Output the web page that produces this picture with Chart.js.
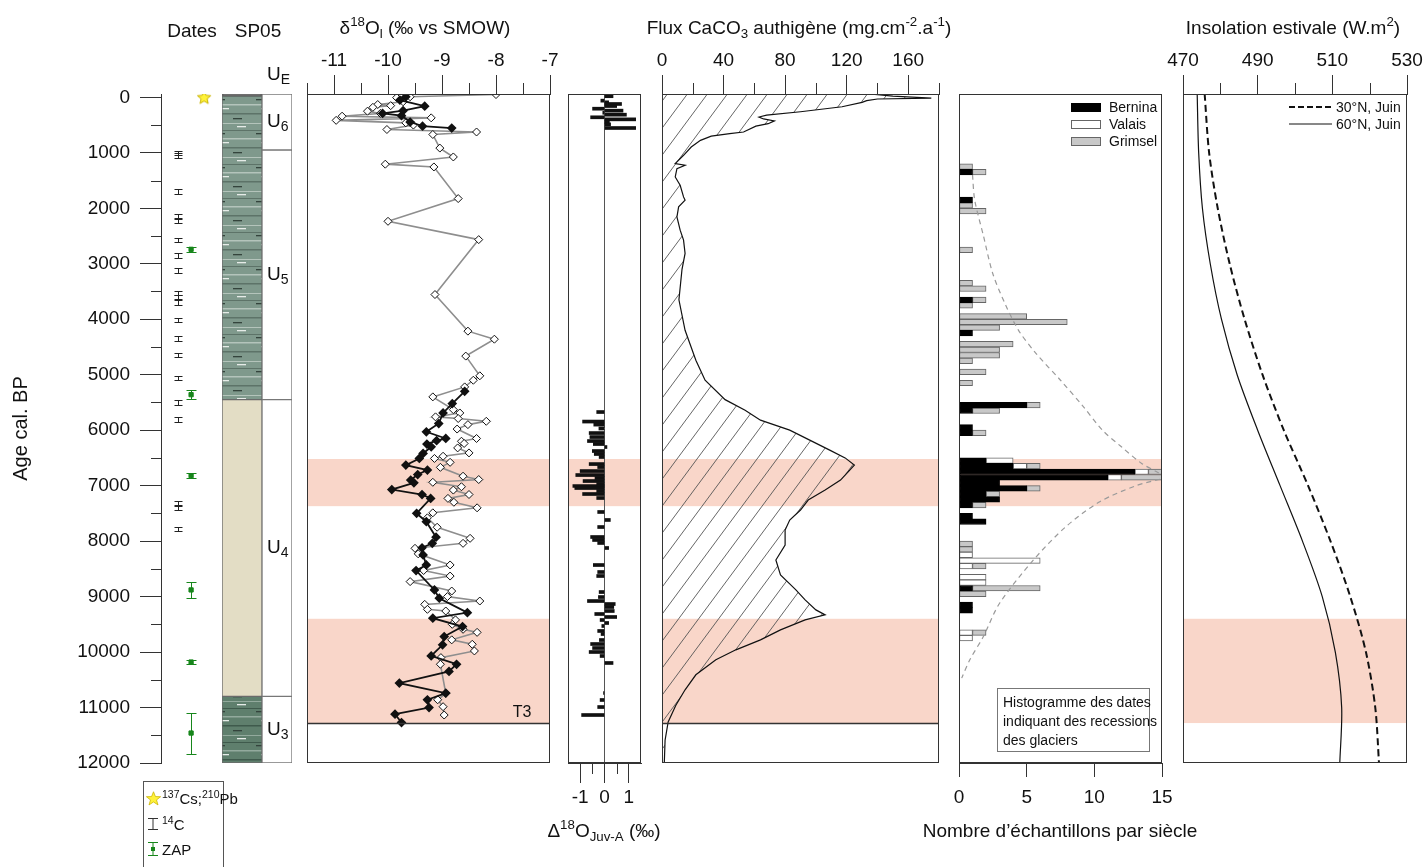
<!DOCTYPE html>
<html lang="fr">
<head>
<meta charset="utf-8">
<title>SP05 - profils</title>
<script src="https://cdn.jsdelivr.net/npm/chart.js@4.4.1/dist/chart.umd.min.js"></script>
<style>
  body { margin: 0; background: #fff; }
  #fig { position: relative; width: 1427px; height: 867px; overflow: hidden; background: #fff;
         font-family: "Liberation Sans", Arial, sans-serif; color: #111; }
  #fig canvas { position: absolute; top: 0; }
  .lbl { position: absolute; white-space: nowrap; transform: translate(-50%, -50%); font-size: 19px; line-height: 1; }
  .lbl sup, .lbl sub, .leg sup, .leg sub { font-size: 70%; line-height: 0; }
  .leg { position: absolute; white-space: nowrap; font-size: 14px; line-height: 1; }
  .box { position: absolute; display: inline-block; }
</style>
</head>
<body>
<div id="fig">
  <div class="lbl" style="left:192px;top:30px">Dates</div>
  <div class="lbl" style="left:258px;top:30px">SP05</div>
  <div class="lbl" style="left:425px;top:27px">δ<sup>18</sup>O<sub>l</sub> (‰ vs SMOW)</div>
  <div class="lbl" style="left:799px;top:27px">Flux CaCO<sub>3</sub> authigène (mg.cm<sup>-2</sup>.a<sup>-1</sup>)</div>
  <div class="lbl" style="left:1293px;top:27px">Insolation estivale (W.m<sup>2</sup>)</div>
  <div class="lbl" style="left:604px;top:830px">Δ<sup>18</sup>O<sub>Juv-A</sub> (‰)</div>
  <div class="lbl" style="left:1060px;top:830px">Nombre d’échantillons par siècle</div>
</div>
<script>
// axe des âges (cal. BP), partagé par tous les panneaux
const AGE_MIN = -60
const AGE_MAX = 12000
const ageTicks = [0, 1000, 2000, 3000, 4000, 5000, 6000, 7000, 8000, 9000, 10000, 11000, 12000]
const ageMinor = [500, 1500, 2500, 3500, 4500, 5500, 6500, 7500, 8500, 9500, 10500, 11500]

// dates
const csAges = [0]
const c14Ages = [1000, 1050, 1700, 2150, 2220, 2570, 2850, 3120, 3530, 3600, 3700, 4010, 4350, 4640, 5060, 5500, 5810, 7310, 7400, 7780]
const C14_ERR = 40
const zapAges = [2740, 5360, 6820, 8880, 10180, 11460]
const zapErr = [50, 80, 40, 150, 40, 370]

// lithologie SP05 et unités
const lithoTop = [-60, -25, 5450, 10800]
const lithoBot = [-25, 5450, 10800, 12000]
const unitNames = ['6', '5', '4', '3']
const unitTop = [-60, 950, 5450, 10800]
const unitBot = [950, 5450, 10800, 12000]

// d18O (permil vs SMOW)
const isoGrayAge = [-50, -10, 5, 80, 130, 150, 180, 250, 290, 340, 370, 415, 460, 500, 580, 625, 670, 915, 1075, 1205, 1255, 1825, 2235, 2565, 3555, 4215, 4360, 4665, 5020, 5100, 5220, 5400, 5630, 5690, 5760, 5790, 5840, 5900, 5980, 6150, 6200, 6240, 6320, 6410, 6470, 6510, 6580, 6670, 6830, 6890, 6940, 7020, 7080, 7160, 7230, 7300, 7400, 7490, 7580, 7750, 7950, 8040, 8130, 8230, 8430, 8530, 8630, 8730, 8900, 9000, 9080, 9140, 9230, 9260, 9420, 9500, 9590, 9645, 9780, 9860, 9980, 10100, 10220, 10745, 10860, 10985, 11135]
const isoGrayVal = [-8.0, -9.59, -9.84, -9.72, -10.19, -9.95, -10.28, -10.38, -10.14, -10.85, -9.2, -10.96, -9.67, -9.53, -10.02, -8.36, -9.17, -9.04, -8.79, -10.05, -9.15, -8.7, -10.0, -8.32, -9.13, -8.52, -8.03, -8.56, -8.3, -8.42, -8.58, -9.17, -8.79, -8.67, -9.12, -8.7, -8.18, -8.52, -8.72, -8.36, -8.64, -8.59, -8.71, -8.5, -8.98, -9.14, -8.85, -9.03, -8.61, -8.32, -9.17, -8.64, -8.79, -8.5, -8.89, -8.78, -8.35, -9.17, -9.27, -9.09, -8.48, -8.61, -9.5, -9.44, -8.85, -9.34, -8.85, -9.59, -8.82, -8.9, -8.3, -9.32, -9.27, -8.93, -8.75, -8.81, -8.61, -8.35, -8.82, -8.44, -8.4, -9.02, -9.03, -8.93, -9.08, -8.98, -8.96]
const isoBlackTopAge = [-10, 50, 160, 240, 290, 330, 445, 520, 555]
const isoBlackTopVal = [-9.67, -9.78, -9.32, -9.72, -10.1, -9.75, -9.59, -9.36, -8.82]
const isoBlackAge = [5300, 5520, 5690, 5880, 6030, 6150, 6190, 6250, 6300, 6420, 6510, 6630, 6720, 6800, 6900, 6950, 7070, 7160, 7230, 7500, 7650, 7930, 8040, 8120, 8250, 8430, 8530, 8880, 9030, 9290, 9390, 9540, 9720, 9870, 10070, 10220, 10350, 10560, 10740, 10860, 11000, 11120, 11270]
const isoBlackVal = [-8.58, -8.81, -8.98, -9.06, -9.29, -8.93, -9.1, -9.28, -9.2, -9.35, -9.42, -9.67, -9.27, -9.45, -9.58, -9.52, -9.93, -9.37, -9.21, -9.47, -9.29, -9.11, -9.18, -9.37, -9.35, -9.29, -9.48, -9.14, -9.05, -8.53, -9.17, -8.62, -8.96, -8.99, -9.2, -8.73, -8.87, -9.79, -8.93, -9.27, -9.24, -9.87, -9.75]
const isoTicks = [-11, -10, -9, -8, -7]
const isoMinor = [-11.5, -10.5, -9.5, -8.5, -7.5]

// Delta18O Juv-A
const deltaAge = [-20, 60, 90, 120, 157, 205, 240, 278, 313, 360, 397, 445, 487, 553, 5673, 5845, 5900, 5970, 6052, 6124, 6196, 6250, 6304, 6376, 6430, 6484, 6611, 6665, 6737, 6809, 6863, 6917, 6971, 7007, 7043, 7097, 7151, 7223, 7475, 7619, 7746, 7926, 7980, 8034, 8124, 8431, 8557, 8629, 8918, 9008, 9080, 9134, 9188, 9260, 9314, 9368, 9422, 9476, 9530, 9620, 9675, 9783, 9855, 9927, 9999, 10071, 10197, 10738, 10864, 10991, 11135]
const deltaVal = [0.35, -0.15, 0.17, 0.7, 0.5, -0.49, 0.76, -0.07, 0.9, -0.57, 1.28, 0.2, 0.25, 1.28, -0.32, -0.9, -0.44, -0.23, -0.63, -0.6, -0.7, -0.46, 0.1, -0.5, -0.42, -0.22, -0.63, -0.28, -1.0, -1.18, -0.39, -0.88, -0.32, -1.3, -1.22, -0.32, -0.9, -0.32, -0.28, 0.24, -0.28, -0.57, -0.49, -0.28, 0.17, -0.46, -0.28, -0.32, -0.22, -0.25, -0.7, 0.44, 0.38, 0.4, -0.4, 0.5, -0.18, 0.17, -0.11, -0.28, -0.14, -0.21, -0.57, -0.49, -0.63, -0.18, 0.35, -0.04, -0.18, -0.28, -0.94]
const deltaTicks = [-1, 0, 1]
const deltaMinor = [-0.5, 0.5]

// flux CaCO3 authigène (mg.cm-2.a-1)
const fluxAge = [-60, -20, 15, 30, 60, 90, 170, 260, 320, 355, 390, 425, 475, 520, 625, 655, 700, 775, 895, 1045, 1195, 1225, 1285, 1435, 1585, 1795, 1855, 1975, 2155, 2395, 2575, 2815, 3100, 3650, 4200, 4740, 5100, 5450, 5640, 5820, 6000, 6180, 6360, 6500, 6630, 6720, 6900, 7080, 7260, 7440, 7620, 7800, 8070, 8340, 8610, 8880, 9060, 9240, 9330, 9420, 9600, 9780, 9960, 10140, 10410, 10680, 10960, 11260, 11590, 12000]
const fluxVal = [135, 150, 175, 140, 133, 130, 117, 90, 68, 63, 66, 73, 69, 61, 53, 44, 32, 25, 19, 14, 8.6, 15, 9.7, 8.6, 11.8, 14, 15, 10.8, 9.7, 11.8, 14, 15, 13, 11, 15, 22, 28, 41, 54, 64, 83, 96, 109, 119, 125, 122, 116, 106, 95, 90, 83, 80, 80, 74, 77, 87, 93, 100, 106, 93, 77, 64, 48, 35, 22, 15, 9, 4, 2, 1.5]
const fluxTicks = [0, 40, 80, 120, 160]
const fluxMinor = [20, 60, 100, 140, 180]

// histogramme des dates de recession glaciaire (nombre par siecle)
const histBins = [1200, 1300, 1800, 1900, 2000, 2700, 3300, 3400, 3600, 3700, 3900, 4000, 4100, 4200, 4400, 4500, 4600, 4700, 4900, 5100, 5500, 5600, 5900, 6000, 6500, 6600, 6700, 6800, 6900, 7000, 7100, 7200, 7300, 7500, 7600, 8000, 8100, 8200, 8300, 8400, 8600, 8700, 8800, 8900, 9100, 9200, 9600, 9700]
const bernina = [0, 1, 1, 0, 0, 0, 0, 0, 1, 0, 0, 0, 0, 1, 0, 0, 0, 0, 0, 0, 5, 1, 1, 1, 2, 4, 13, 11, 3, 5, 2, 3, 1, 1, 2, 0, 0, 0, 0, 0, 0, 0, 1, 0, 1, 1, 0, 0]
const valais = [0, 0, 0, 0, 0, 0, 0, 0, 0, 0, 0, 0, 0, 0, 0, 0, 0, 0, 0, 0, 0, 0, 0, 0, 2, 1, 1, 1, 0, 0, 0, 0, 0, 0, 0, 0, 0, 1, 6, 1, 2, 2, 0, 0, 0, 0, 1, 1]
const grimsel = [1, 1, 0, 1, 2, 1, 1, 2, 1, 1, 5, 8, 3, 0, 4, 3, 3, 1, 2, 1, 1, 2, 0, 1, 0, 1, 1, 3, 0, 1, 1, 0, 1, 0, 0, 1, 1, 0, 0, 1, 0, 0, 5, 2, 0, 0, 1, 0]
const curveAge = [1400, 1850, 2490, 3180, 3720, 4200, 4620, 5100, 5580, 6000, 6300, 6600, 6750, 6840, 6860, 7000, 7290, 7740, 8340, 9120, 9720, 10140, 10470]
const curveVal = [1.0, 1.16, 1.8, 2.5, 3.4, 4.4, 5.7, 7.5, 9.2, 10.6, 12.0, 13.5, 14.6, 15.2, 15.2, 13.1, 10.4, 7.9, 5.5, 3.0, 1.8, 0.8, 0.2]
const histTicks = [0, 5, 10, 15]

// insolation estivale (W.m2)
const insolAge = [-60, 1000, 2000, 3000, 4000, 5000, 6000, 7000, 8000, 9000, 10000, 11000, 12000]
const insol30 = [475.8, 477, 479.3, 482.5, 486.5, 491.3, 497, 503.5, 509.5, 514.8, 519, 521.5, 522.5]
const insol60 = [473.8, 474.2, 475.2, 477.3, 480.3, 484.5, 490, 496, 502, 507.3, 510.8, 512.5, 512]
const insolTicks = [470, 490, 510, 530]
const insolMinor = [480, 500, 520]

// periodes surlignées et limite T3
const bandA = [6520, 7370]
const bandB = [9400, 11280]
const T3_AGE = 11280

const INK = '#333'
const PINK = '#f9d6c9'
const GREEN = '#17861b'
const FONT = "'Liberation Sans', Arial, sans-serif"

Chart.defaults.font.family = FONT
Chart.defaults.color = '#111'

const fig = document.getElementById('fig')

function canvasAt(left, width) {
  const c = document.createElement('canvas')
  c.width = width
  c.height = 867
  c.style.left = left + 'px'
  c.style.width = width + 'px'
  c.style.height = '867px'
  fig.insertBefore(c, fig.firstChild)
  return c
}

function pts(xs, ys) {
  return xs.map((x, i) => ({ x: x, y: ys[i] }))
}

const base = {
  responsive: false,
  animation: false,
  devicePixelRatio: 1,
  plugins: { legend: { display: false }, tooltip: { enabled: false } }
}

function ageAxis() {
  return { type: 'linear', reverse: true, min: AGE_MIN, max: AGE_MAX, display: false, offset: false, grid: { offset: false } }
}

function topAxis(min, max, ticks) {
  return {
    type: 'linear', position: 'top', min: min, max: max,
    afterBuildTicks: s => { s.ticks = ticks.map(v => ({ value: v })) },
    afterFit: s => { s.height = 94 },
    grid: { drawOnChartArea: false, tickLength: 19, color: INK },
    border: { color: INK },
    ticks: { padding: 3, font: { size: 19 }, color: '#111', maxRotation: 0, autoSkip: false, callback: v => String(v) }
  }
}

function bottomAxis(min, max, ticks, tl, pad) {
  return {
    type: 'linear', position: 'bottom', min: min, max: max,
    afterBuildTicks: s => { s.ticks = ticks.map(v => ({ value: v })) },
    afterFit: s => { s.height = 104 },
    grid: { drawOnChartArea: false, tickLength: tl, color: INK },
    border: { color: INK },
    ticks: { padding: pad, font: { size: 19 }, color: '#111', maxRotation: 0, autoSkip: false, callback: v => String(v) }
  }
}

// cadre autour de la zone de tracé
function frame() {
  return {
    id: 'frame',
    afterDatasetsDraw(chart) {
      const a = chart.chartArea, ctx = chart.ctx
      ctx.save()
      ctx.strokeStyle = INK
      ctx.lineWidth = 1
      ctx.strokeRect(Math.round(a.left) + 0.5, Math.round(a.top) + 0.5, Math.round(a.width) - 1, Math.round(a.height) - 1)
      ctx.restore()
    }
  }
}

// bandes roses et lignes horizontales (T3)
function bands(ranges, lines) {
  return {
    id: 'bands',
    beforeDraw(chart) {
      const a = chart.chartArea, ctx = chart.ctx, y = chart.scales.y
      ctx.save()
      ctx.fillStyle = PINK
      ranges.forEach(r => {
        const y0 = y.getPixelForValue(r[0]), y1 = y.getPixelForValue(r[1])
        ctx.fillRect(a.left, y0, a.width, y1 - y0)
      })
      ctx.restore()
    },
    afterDatasetsDraw(chart) {
      const a = chart.chartArea, ctx = chart.ctx, y = chart.scales.y
      ctx.save()
      ctx.strokeStyle = INK
      ctx.lineWidth = 1.5
      lines.forEach(v => {
        const p = Math.round(y.getPixelForValue(v)) + 0.5
        ctx.beginPath()
        ctx.moveTo(a.left, p)
        ctx.lineTo(a.right, p)
        ctx.stroke()
      })
      ctx.restore()
    }
  }
}

// petites graduations
function minor(axis, side, values, len) {
  return {
    id: 'minor',
    afterDraw(chart) {
      const s = chart.scales[axis], a = chart.chartArea, ctx = chart.ctx
      ctx.save()
      ctx.strokeStyle = INK
      ctx.lineWidth = 1
      ctx.beginPath()
      values.forEach(v => {
        const p = Math.round(s.getPixelForValue(v)) + 0.5
        if (side === 'top') { ctx.moveTo(p, a.top); ctx.lineTo(p, a.top - len) }
        if (side === 'bottom') { ctx.moveTo(p, a.bottom); ctx.lineTo(p, a.bottom + len) }
        if (side === 'left') { ctx.moveTo(a.left, p); ctx.lineTo(a.left - len, p) }
      })
      ctx.stroke()
      ctx.restore()
    }
  }
}

// barres d'erreur verticales pour les dates
const errorBars = {
  id: 'errorBars',
  beforeDatasetsDraw(chart) {
    const ctx = chart.ctx, ys = chart.scales.y
    chart.data.datasets.forEach((ds, i) => {
      if (!ds.errorBars) return
      const meta = chart.getDatasetMeta(i)
      const c = ds.errorBars.cap
      ctx.save()
      ctx.strokeStyle = ds.errorBars.color
      ctx.lineWidth = 1
      ctx.beginPath()
      meta.data.forEach((pt, j) => {
        const raw = ds.data[j]
        const x = Math.round(pt.x) + 0.5
        const y0 = Math.round(ys.getPixelForValue(raw.lo)) + 0.5
        const y1 = Math.round(ys.getPixelForValue(raw.hi)) + 0.5
        ctx.moveTo(x, y0); ctx.lineTo(x, y1)
        ctx.moveTo(x - c, y0); ctx.lineTo(x + c, y0)
        ctx.moveTo(x - c, y1); ctx.lineTo(x + c, y1)
      })
      ctx.stroke()
      ctx.restore()
    })
  }
}

function starImage(size) {
  const c = document.createElement('canvas')
  c.width = c.height = size
  const g = c.getContext('2d')
  const r = size / 2 - 1, ri = r * 0.45, cx = size / 2, cy = size / 2 + 0.5
  g.beginPath()
  for (let k = 0; k < 10; k++) {
    const rr = k % 2 ? ri : r
    const ang = -Math.PI / 2 + k * Math.PI / 5
    g.lineTo(cx + rr * Math.cos(ang), cy + rr * Math.sin(ang))
  }
  g.closePath()
  g.fillStyle = '#fff23a'
  g.fill()
  g.strokeStyle = '#c9b300'
  g.lineWidth = 1
  g.stroke()
  return c
}

function lamPattern(bg, light, dark) {
  const c = document.createElement('canvas')
  c.width = 40
  c.height = 34
  const g = c.getContext('2d')
  g.fillStyle = bg
  g.fillRect(0, 0, 40, 34)
  g.fillStyle = light
  g.fillRect(0, 2, 40, 1.5)
  g.fillRect(0, 21, 40, 1)
  g.fillStyle = dark
  g.fillRect(0, 11, 40, 1.5)
  g.fillRect(0, 28, 40, 1)
  g.fillStyle = '#e6ece8'
  g.fillRect(9, 6, 8, 1.3)
  g.fillRect(25, 24, 9, 1.3)
  g.fillStyle = '#34443c'
  g.fillRect(21, 16, 9, 1.3)
  g.fillRect(4, 31, 9, 1.3)
  return document.createElement('canvas').getContext('2d').createPattern(c, 'repeat')
}

function hatchPattern() {
  const c = document.createElement('canvas')
  c.width = 20
  c.height = 27
  const g = c.getContext('2d')
  g.strokeStyle = '#555'
  g.lineWidth = 0.9
  g.beginPath()
  g.moveTo(0, 27); g.lineTo(20, 0)
  g.moveTo(-20, 27); g.lineTo(0, 0)
  g.moveTo(20, 27); g.lineTo(40, 0)
  g.stroke()
  return document.createElement('canvas').getContext('2d').createPattern(c, 'repeat')
}

// ---- axe des âges + dates ----
const COL_C14 = 0.29, COL_ZAP = 0.51, COL_CS = 0.73
new Chart(canvasAt(0, 230), {
  type: 'scatter',
  data: {
    datasets: [
      { data: csAges.map(a => ({ x: COL_CS, y: a })), pointStyle: starImage(16), pointRadius: 8 },
      { data: zapAges.map((a, i) => ({ x: COL_ZAP, y: a, lo: a - zapErr[i], hi: a + zapErr[i] })), pointStyle: 'rect', pointRadius: 3, backgroundColor: GREEN, borderColor: GREEN, errorBars: { color: GREEN, cap: 5 } },
      { data: c14Ages.map(a => ({ x: COL_C14, y: a, lo: a - C14_ERR, hi: a + C14_ERR })), pointRadius: 0, errorBars: { color: '#222', cap: 4 } }
    ]
  },
  options: {
    ...base,
    layout: { padding: { top: 94, bottom: 104, left: 0, right: 10 } },
    scales: {
      x: { type: 'linear', min: 0, max: 1, display: false },
      y: {
        type: 'linear', reverse: true, min: AGE_MIN, max: AGE_MAX, position: 'left',
        afterBuildTicks: s => { s.ticks = ageTicks.map(v => ({ value: v })) },
        afterFit: s => { s.width = 161 },
        grid: { drawOnChartArea: false, tickLength: 21, color: INK },
        border: { color: INK },
        ticks: { padding: 10, font: { size: 19 }, color: '#111', callback: v => String(v) },
        title: { display: true, text: 'Age cal. BP', font: { size: 20 }, color: '#111', padding: { top: 9, bottom: 0 } }
      }
    }
  },
  plugins: [errorBars, minor('y', 'left', ageMinor, 10)]
})

// ---- colonne lithologique ----
const upperPat = lamPattern('#7f998c', '#b4c4bb', '#5d7368')
const lowerPat = lamPattern('#5f7f6d', '#93aa9d', '#3f5a4c')
const lithoFill = ['#111', upperPat, '#e3ddc5', lowerPat]
new Chart(canvasAt(212, 60), {
  type: 'bar',
  data: {
    labels: ['SP05'],
    datasets: lithoTop.map((t, i) => ({
      data: [[t, lithoBot[i]]], backgroundColor: lithoFill[i], borderColor: '#6b6b6b', borderWidth: 1,
      borderSkipped: false, grouped: false, barPercentage: 1, categoryPercentage: 1
    }))
  },
  options: {
    ...base,
    layout: { padding: { top: 94, bottom: 104, left: 10, right: 10 } },
    scales: { x: { display: false }, y: ageAxis() }
  }
})

// ---- unités ----
const unitLabels = {
  id: 'unitLabels',
  afterDatasetsDraw(chart) {
    const ctx = chart.ctx, y = chart.scales.y, a = chart.chartArea
    ctx.save()
    ctx.fillStyle = '#111'
    ctx.textBaseline = 'middle'
    const draw = (sub, yy) => {
      ctx.font = '19px ' + FONT
      ctx.fillText('U', a.left + 5, yy)
      const w = ctx.measureText('U').width
      ctx.font = '14px ' + FONT
      ctx.fillText(sub, a.left + 5 + w, yy + 5)
    }
    unitNames.forEach((n, i) => draw(n, y.getPixelForValue((unitTop[i] + unitBot[i]) / 2)))
    draw('E', a.top - 19)
    ctx.restore()
  }
}
new Chart(canvasAt(252, 50), {
  type: 'bar',
  data: {
    labels: ['U'],
    datasets: unitTop.map((t, i) => ({
      data: [[t, unitBot[i]]], backgroundColor: '#fff', borderColor: '#777', borderWidth: 1,
      borderSkipped: false, grouped: false, barPercentage: 1, categoryPercentage: 1
    }))
  },
  options: {
    ...base,
    layout: { padding: { top: 94, bottom: 104, left: 10, right: 10 } },
    scales: { x: { display: false }, y: ageAxis() }
  },
  plugins: [unitLabels]
})

// ---- d18O ----
const t3Label = {
  id: 't3',
  afterDatasetsDraw(chart) {
    const ctx = chart.ctx, a = chart.chartArea
    ctx.save()
    ctx.fillStyle = '#111'
    ctx.font = '16px ' + FONT
    ctx.textAlign = 'center'
    ctx.textBaseline = 'middle'
    ctx.fillText('T3', a.right - 28, chart.scales.y.getPixelForValue(T3_AGE) - 10)
    ctx.restore()
  }
}
new Chart(canvasAt(282, 293), {
  type: 'scatter',
  data: {
    datasets: [
      { data: pts(isoBlackTopVal, isoBlackTopAge), showLine: true, borderColor: '#111', borderWidth: 1.8, pointStyle: 'rectRot', pointRadius: 3.6, backgroundColor: '#111', pointBorderColor: '#111' },
      { data: pts(isoBlackVal, isoBlackAge), showLine: true, borderColor: '#111', borderWidth: 1.8, pointStyle: 'rectRot', pointRadius: 3.6, backgroundColor: '#111', pointBorderColor: '#111' },
      { data: pts(isoGrayVal, isoGrayAge), showLine: true, borderColor: '#8e8e8e', borderWidth: 1.6, pointStyle: 'rectRot', pointRadius: 4, pointBackgroundColor: '#fff', pointBorderColor: '#111', pointBorderWidth: 1 }
    ]
  },
  options: {
    ...base,
    layout: { padding: { top: 0, bottom: 104, left: 25, right: 25 } },
    scales: { x: topAxis(-11.5, -7, isoTicks), y: ageAxis() }
  },
  plugins: [bands([bandA, bandB], [T3_AGE]), frame(), minor('x', 'top', isoMinor, 11), t3Label]
})

// ---- Delta18O ----
new Chart(canvasAt(543, 123), {
  type: 'bar',
  data: {
    datasets: [{ data: pts(deltaVal, deltaAge), backgroundColor: '#111', barThickness: 3 }]
  },
  options: {
    ...base,
    indexAxis: 'y',
    layout: { padding: { top: 94, bottom: 0, left: 25, right: 25 } },
    scales: {
      x: Object.assign(bottomAxis(-1.5, 1.5, deltaTicks, 20, 3), {
        grid: { drawOnChartArea: true, tickLength: 20, tickColor: INK, color: c => c.tick && c.tick.value === 0 ? '#555' : 'rgba(0,0,0,0)' }
      }),
      y: ageAxis()
    }
  },
  plugins: [bands([bandA], []), frame(), minor('x', 'bottom', deltaMinor, 11)]
})

// ---- flux CaCO3 ----
new Chart(canvasAt(637, 327), {
  type: 'line',
  data: {
    datasets: [{ data: pts(fluxVal, fluxAge), borderColor: '#111', borderWidth: 1.2, pointRadius: 0, fill: 'origin', backgroundColor: hatchPattern(), tension: 0 }]
  },
  options: {
    ...base,
    indexAxis: 'y',
    layout: { padding: { top: 0, bottom: 104, left: 25, right: 25 } },
    scales: { x: topAxis(0, 180, fluxTicks), y: ageAxis() }
  },
  plugins: [bands([bandA, bandB], [T3_AGE]), frame(), minor('x', 'top', fluxMinor, 11)]
})

// ---- histogramme ----
const nz = arr => histBins.map((b, i) => ({ x: arr[i] || null, y: b + 50 }))
const barStyle = { borderWidth: 1, borderSkipped: false, barPercentage: 1, categoryPercentage: 1 }
new Chart(canvasAt(934, 253), {
  type: 'bar',
  data: {
    datasets: [
      { type: 'line', data: pts(curveVal, curveAge), borderColor: '#9a9a9a', borderWidth: 1.2, borderDash: [5, 4], pointRadius: 0, fill: false, tension: 0.3, stack: 'curve' },
      { label: 'Bernina', data: nz(bernina), backgroundColor: '#000', borderColor: '#000', ...barStyle },
      { label: 'Valais', data: nz(valais), backgroundColor: '#fff', borderColor: '#666', ...barStyle },
      { label: 'Grimsel', data: nz(grimsel), backgroundColor: '#c8c8c8', borderColor: '#666', ...barStyle }
    ]
  },
  options: {
    ...base,
    indexAxis: 'y',
    layout: { padding: { top: 94, bottom: 0, left: 25, right: 25 } },
    scales: {
      x: Object.assign(bottomAxis(0, 15, histTicks, 14, 9), { stacked: true }),
      y: Object.assign(ageAxis(), { stacked: true })
    }
  },
  plugins: [bands([bandA], []), frame()]
})

// ---- insolation ----
new Chart(canvasAt(1158, 274), {
  type: 'scatter',
  data: {
    datasets: [
      { data: pts(insol30, insolAge), showLine: true, borderColor: '#111', borderWidth: 2, borderDash: [7, 4], pointRadius: 0, tension: 0.3 },
      { data: pts(insol60, insolAge), showLine: true, borderColor: '#111', borderWidth: 1.2, pointRadius: 0, tension: 0.3 }
    ]
  },
  options: {
    ...base,
    layout: { padding: { top: 0, bottom: 104, left: 25, right: 25 } },
    scales: { x: topAxis(470, 530, insolTicks), y: ageAxis() }
  },
  plugins: [bands([bandB], []), frame(), minor('x', 'top', insolMinor, 11)]
})

// légendes et encadrés (texte HTML)
const extra = `
  <div class="leg" style="left:1071px;top:103px"><span class="box" style="left:0;top:0;width:28px;height:7px;background:#000;border:1px solid #000"></span><span style="position:absolute;left:38px;top:-3px">Bernina</span></div>
  <div class="leg" style="left:1071px;top:120px"><span class="box" style="left:0;top:0;width:28px;height:7px;background:#fff;border:1px solid #666"></span><span style="position:absolute;left:38px;top:-3px">Valais</span></div>
  <div class="leg" style="left:1071px;top:137px"><span class="box" style="left:0;top:0;width:28px;height:7px;background:#c8c8c8;border:1px solid #666"></span><span style="position:absolute;left:38px;top:-3px">Grimsel</span></div>
  <div class="leg" style="left:997px;top:688px;width:153px;height:64px;border:1px solid #777;background:#fff;line-height:19px;padding:4px 0 0 5px;box-sizing:border-box;font-size:14px">Histogramme des dates<br>indiquant des recessions<br>des glaciers</div>
  <div class="leg" style="left:1289px;top:100px"><svg width="44" height="14" style="position:absolute;left:0;top:0"><line x1="0" y1="7" x2="43" y2="7" stroke="#111" stroke-width="2" stroke-dasharray="6 3"/></svg><span style="position:absolute;left:47px;top:0">30°N, Juin</span></div>
  <div class="leg" style="left:1289px;top:117px"><svg width="44" height="14" style="position:absolute;left:0;top:0"><line x1="0" y1="7" x2="43" y2="7" stroke="#111" stroke-width="1"/></svg><span style="position:absolute;left:47px;top:0">60°N, Juin</span></div>
  <div class="leg" style="left:143px;top:781px;width:79px;height:100px;border:1px solid #555;background:#fff;font-size:15px">
    <svg width="15" height="15" viewBox="0 0 20 20" style="position:absolute;left:2px;top:9px"><polygon points="10,1 12.6,7.4 19.5,7.6 14,11.9 16,18.6 10,14.6 4,18.6 6,11.9 0.5,7.6 7.4,7.4" fill="#fff23a" stroke="#c9b300" stroke-width="1"/></svg>
    <span style="position:absolute;left:18px;top:9px"><sup>137</sup>Cs;<sup>210</sup>Pb</span>
    <svg width="12" height="14" style="position:absolute;left:3px;top:35px"><path d="M1 1.5H11M6 1.5V12.5M1 12.5H11" stroke="#333" fill="none"/></svg>
    <span style="position:absolute;left:18px;top:35px"><sup>14</sup>C</span>
    <svg width="12" height="16" style="position:absolute;left:3px;top:59px"><path d="M1 1.5H11M6 1.5V14.5M1 14.5H11" stroke="${GREEN}" fill="none"/><rect x="4" y="6" width="4" height="4" fill="${GREEN}"/></svg>
    <span style="position:absolute;left:18px;top:60px">ZAP</span>
  </div>`
fig.insertAdjacentHTML('beforeend', extra)
</script>
</body>
</html>
